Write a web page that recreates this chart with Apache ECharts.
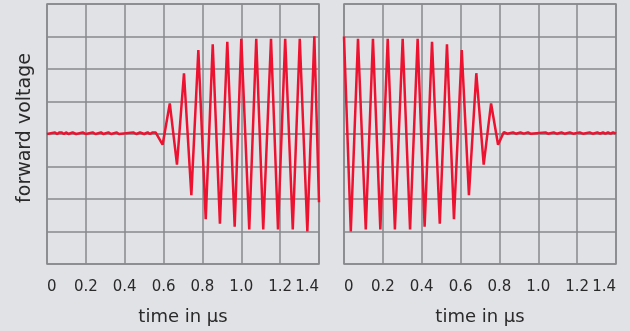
<!DOCTYPE html>
<html>
<head>
<meta charset="utf-8">
<script src="https://cdn.jsdelivr.net/npm/echarts@6/dist/echarts.min.js"></script>
<style>
  html, body { margin: 0; padding: 0; background: #e1e2e5; }
  #main { width: 630px; height: 331px; }
</style>
</head>
<body>
<div id="main"></div>
<script>
// left panel: ripple, then the oscillation builds up
var leftTime = [0, 0.041, 0.052, 0.063, 0.07, 0.076, 0.087, 0.098, 0.11, 0.132, 0.15, 0.184, 0.2, 0.235, 0.25,
    0.278, 0.29, 0.316, 0.33, 0.359, 0.37, 0.444, 0.46, 0.479, 0.5, 0.518, 0.53, 0.544, 0.552, 0.559, 0.568,
    0.595, 0.632, 0.669, 0.705, 0.743, 0.779, 0.817, 0.853, 0.890, 0.928, 0.966, 1.000, 1.041, 1.077, 1.113,
    1.153, 1.189, 1.226, 1.265, 1.301, 1.340, 1.376, 1.4];
var leftVoltage = [0, 0.05, 0, 0.05, 0, 0.05, 0, 0.05, 0, 0.05, 0, 0.05, 0, 0.05, 0,
    0.05, 0, 0.05, 0, 0.05, 0, 0.05, 0, 0.05, 0, 0.05, 0, 0.05, 0.01, 0.05, 0.04,
    -0.33, 0.94, -0.94, 1.87, -1.88, 2.58, -2.62, 2.76, -2.76, 2.84, -2.85, 2.93, -2.94, 2.93, -2.94,
    2.93, -2.94, 2.93, -2.94, 2.93, -3.0, 3.01, -2.1];

// right panel: oscillation decays, then ripple
var rightTime = [0, 0.035, 0.072, 0.112, 0.149, 0.187, 0.225, 0.262, 0.302, 0.340, 0.379, 0.415, 0.453, 0.493,
    0.530, 0.566, 0.606, 0.643, 0.681, 0.719, 0.757, 0.793, 0.823, 0.84, 0.87, 0.885, 0.908, 0.925, 0.947,
    0.96, 1.037, 1.05, 1.079, 1.095, 1.119, 1.135, 1.162, 1.18, 1.213, 1.23, 1.264, 1.28, 1.304, 1.318,
    1.333, 1.345, 1.359, 1.372, 1.385, 1.4];
var rightVoltage = [3.0, -3.0, 2.93, -2.94, 2.93, -2.94, 2.93, -2.94, 2.93, -2.94, 2.93, -2.85, 2.84, -2.76,
    2.76, -2.62, 2.58, -1.88, 1.87, -0.94, 0.94, -0.33, 0.06, 0.01, 0.05, 0.01, 0.05, 0.01, 0.05,
    0.01, 0.05, 0.01, 0.05, 0.01, 0.05, 0.01, 0.05, 0.01, 0.05, 0.01, 0.05, 0.01, 0.05, 0.01,
    0.05, 0.01, 0.05, 0.01, 0.05, 0.01];

var xTicks = [0, 0.2, 0.4, 0.6, 0.8, 1.0, 1.2, 1.4];
var xName = 'time in μs';
var yName = 'forward voltage';

var font = 'DejaVu Sans';
var textColor = '#2a2a2a';
var gridColor = '#87898c';
var lineColor = '#ec1230';

function zip(a, b) {
    return a.map((v, i) => [v, b[i]]);
}

function makeXAxis(idx) {
    return {
        type: 'value',
        gridIndex: idx,
        min: xTicks[0],
        max: xTicks[xTicks.length - 1],
        interval: 0.2,
        name: xName,
        nameLocation: 'middle',
        nameGap: 44,
        nameTextStyle: { fontFamily: font, fontSize: 18, color: textColor },
        axisLine: { show: true, lineStyle: { color: gridColor, width: 1.5 } },
        axisTick: { show: false },
        axisLabel: {
            margin: 16,
            fontFamily: font, fontSize: 15, color: textColor,
            alignMinLabel: 'left',
            alignMaxLabel: 'right',
            formatter: v => v === 0 ? '0' : v.toFixed(1)
        },
        splitLine: { show: true, lineStyle: { color: gridColor, width: 1.5 } }
    };
}

function makeYAxis(idx) {
    return {
        type: 'value',
        gridIndex: idx,
        min: -4,
        max: 4,
        interval: 1,
        axisLine: { show: false },
        axisTick: { show: false },
        axisLabel: { show: false },
        splitLine: { show: true, lineStyle: { color: gridColor, width: 1.5 } }
    };
}

var chart = echarts.init(document.getElementById('main'));
var option = {
    backgroundColor: '#e1e2e5',
    animation: false,
    grid: [
        { left: 47, top: 4, width: 272, height: 267, show: true, borderColor: gridColor, borderWidth: 1.5 },
        { left: 344, top: 4, width: 272, height: 267, show: true, borderColor: gridColor, borderWidth: 1.5 }
    ],
    xAxis: [makeXAxis(0), makeXAxis(1)],
    yAxis: [makeYAxis(0), makeYAxis(1)],
    graphic: [{
        type: 'text',
        x: 25,
        y: 128,
        rotation: Math.PI / 2,
        style: {
            text: yName,
            fontFamily: font,
            fontSize: 19,
            fill: textColor,
            textAlign: 'center',
            textVerticalAlign: 'middle'
        }
    }],
    series: [
        {
            type: 'line', xAxisIndex: 0, yAxisIndex: 0,
            data: zip(leftTime, leftVoltage),
            showSymbol: false,
            lineStyle: { color: lineColor, width: 2.5 }
        },
        {
            type: 'line', xAxisIndex: 1, yAxisIndex: 1,
            data: zip(rightTime, rightVoltage),
            showSymbol: false,
            lineStyle: { color: lineColor, width: 2.5 }
        }
    ]
};
chart.setOption(option);
</script>
</body>
</html>
